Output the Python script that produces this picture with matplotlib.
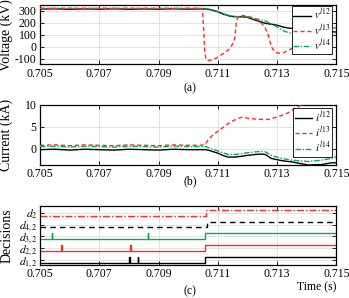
import matplotlib as mpl
mpl.use('Agg')
import matplotlib.pyplot as plt

plt.rcParams['font.family'] = ['Liberation Serif', 'DejaVu Serif']
plt.rcParams['mathtext.fontset'] = 'stix'
plt.rcParams['axes.unicode_minus'] = False
plt.rcParams['font.size'] = 8.5

RED = '#ff2a2a'
GREEN = '#00b050'

# --- panel (a): voltages (kV) ---
T_PRE = [0.7050, 0.7055, 0.7060, 0.7065, 0.7070, 0.7075, 0.7080, 0.7085,
         0.7090, 0.7095, 0.7100, 0.7104]
v12_pre = [316, 318, 314, 317, 315, 318, 314, 317, 315, 318, 315, 317]
v13_pre = [322, 319, 323, 320, 322, 319, 323, 320, 322, 319, 322, 321]
v14_pre = [321, 323, 320, 322, 321, 323, 320, 322, 321, 323, 321, 322]

t_v12 = [0.7106, 0.7108, 0.7110, 0.7112, 0.7114, 0.7116, 0.7118, 0.7120,
         0.7122, 0.7124, 0.7126, 0.7128, 0.7130, 0.7132, 0.7134, 0.7136,
         0.7138, 0.7140, 0.7145, 0.7150]
v12_post = [316, 308, 292, 272, 257, 251, 251, 246, 228, 212, 196, 188,
            180, 165, 155, 153, 150, 145, 132, 122]
t_v14 = t_v12
v14_post = [320, 310, 295, 276, 260, 252, 252, 250, 236, 228, 216, 192,
            165, 135, 116, 108, 110, 118, 140, 160]

t_v13 = [0.71048, 0.71052, 0.71056, 0.71060, 0.71066, 0.71083, 0.71100,
         0.71117, 0.71134, 0.71147, 0.71157, 0.71163, 0.71170, 0.71178,
         0.71197, 0.71225, 0.71242, 0.71258, 0.71270, 0.71281, 0.71292,
         0.71305, 0.71320, 0.71335, 0.71348, 0.71380, 0.71420, 0.71460,
         0.71500]
v13_post = [318, 150, -60, -105, -118, -110, -88, -60, -31, 10, 68, 223,
            255, 262, 257, 237, 209, 166, 96, -3, -45, -55, -52, -35, -17,
            20, 60, 95, 120]

# --- panel (b): currents (kA) ---
i12_pre = [-0.2, -0.1, -0.3, -0.1, -0.2, -0.3, -0.1, -0.2, -0.3, -0.1, -0.2, -0.2]
i13_pre = [0.8, 0.9, 0.7, 0.9, 0.8, 0.7, 0.9, 0.8, 0.7, 0.9, 0.8, 0.8]
i14_pre = [0.5, 0.6, 0.4, 0.6, 0.5, 0.4, 0.6, 0.5, 0.4, 0.6, 0.5, 0.5]

t_i = [0.7106, 0.71067, 0.7110, 0.71120, 0.71135, 0.71157, 0.7118, 0.7120,
       0.71225, 0.71247, 0.7126, 0.7128, 0.71315, 0.7135, 0.71405, 0.7145,
       0.71483, 0.7150]
i12_post = [-0.2, -0.3, -1.0, -1.6, -1.9, -1.9, -1.7, -1.5, -1.3, -1.2,
            -1.3, -2.2, -2.7, -3.0, -3.7, -3.6, -3.2, -3.2]
i14_post = [0.5, 0.3, -0.5, -1.0, -1.3, -1.3, -1.1, -0.9, -0.7, -0.6,
            -0.7, -1.5, -2.2, -2.6, -2.9, -2.6, -2.2, -1.8]

t_i13 = [0.71056, 0.71067, 0.71079, 0.7109, 0.7110, 0.71124, 0.7114,
         0.71163, 0.7118, 0.7120, 0.71225, 0.7125, 0.7127, 0.71303,
         0.71337, 0.7136, 0.7140, 0.7150]
i13_post = [0.9, 2.0, 2.9, 3.5, 4.0, 5.2, 6.0, 6.8, 7.2, 7.0, 6.8, 6.7,
            6.7, 7.3, 8.2, 9.3, 10.5, 12.0]

# --- panel (c): decisions ---
decision_labels = ['$d_{1,2}$', '$d_{2,2}$', '$d_{3,2}$', '$d_{4,2}$', '$d_2$']
decision_levels = [0, 1, 2, 3, 4]
decision_steps = [0.71056, 0.71056, 0.71056, 0.71062, 0.71060]
decision_spikes = [[0.70801, 0.70829], [0.70571, 0.70803],
                   [0.70539, 0.70863], [], []]
decision_styles = [dict(color='k', ls='-'), dict(color=RED, ls='-'),
                   dict(color=GREEN, ls='-'), dict(color='k', ls=(0, (4, 3))),
                   dict(color=RED, ls=(0, (5, 1.5, 1, 1.5)))]

STEP_HEIGHT = 0.5
SPIKE_WIDTH = 0.00003


def decision_trace(level, spikes, t_step):
    t = [0.705]
    y = [level]
    for s in spikes:
        t += [s, s + SPIKE_WIDTH]
        y += [level + STEP_HEIGHT, level]
    t += [t_step, 0.715]
    y += [level + STEP_HEIGHT, level + STEP_HEIGHT]
    return t, y


def style_axis(ax):
    ax.set_xlim(0.705, 0.715)
    ax.set_xticks([0.705, 0.707, 0.709, 0.711, 0.713, 0.715])
    ax.xaxis.set_major_formatter(mpl.ticker.FormatStrFormatter('%.3f'))
    ax.grid(True, color='#e3e3e3', lw=0.7)
    ax.set_axisbelow(True)
    ax.tick_params(direction='in', top=True, right=True, length=3,
                   width=0.6, pad=2.5)
    for sp in ax.spines.values():
        sp.set_linewidth(0.9)


def add_legend(ax, anchor_y):
    leg = ax.legend(loc='upper right', bbox_to_anchor=(0.986, anchor_y),
                    borderaxespad=0, fontsize=7.8, handlelength=1.6,
                    labelspacing=0.0, handletextpad=0.25, borderpad=0.15,
                    fancybox=False, framealpha=1, edgecolor='k')
    leg.get_frame().set_linewidth(0.6)


fig = plt.figure(figsize=(3.49, 2.98), dpi=100)
ax_a = fig.add_axes([0.1146, 0.7836, 0.8494, 0.1997])
ax_b = fig.add_axes([0.1146, 0.4463, 0.8494, 0.2014])
ax_c = fig.add_axes([0.1146, 0.1124, 0.8494, 0.1963])

# (a)
ax_a.plot(T_PRE + t_v12, v12_pre + v12_post, color='k', lw=1.0,
          label='$v^{l12}$', zorder=3)
ax_a.plot(T_PRE + t_v13, v13_pre + v13_post, color=RED, lw=1.0,
          ls=(0, (3, 2)), label='$v^{l13}$', zorder=4)
ax_a.plot(T_PRE + t_v14, v14_pre + v14_post, color=GREEN, lw=1.0,
          ls=(0, (4, 1.2, 1, 1.2)), label='$v^{l14}$', zorder=3)
style_axis(ax_a)
ax_a.set_ylim(-150, 350)
ax_a.set_yticks([-100, 0, 100, 200, 300])
ax_a.set_ylabel('Voltage (kV)', fontsize=10)
add_legend(ax_a, 0.99)

# (b)
ax_b.plot(T_PRE + t_i, i12_pre + i12_post, color='k', lw=1.0,
          label='$i^{l12}$', zorder=3)
ax_b.plot(T_PRE + t_i13, i13_pre + i13_post, color=RED, lw=1.0,
          ls=(0, (3, 2)), label='$i^{l13}$', zorder=4)
ax_b.plot(T_PRE + t_i, i14_pre + i14_post, color=GREEN, lw=1.0,
          ls=(0, (4, 1.2, 1, 1.2)), label='$i^{l14}$', zorder=3)
style_axis(ax_b)
ax_b.set_ylim(-3.7, 10)
ax_b.set_yticks([0, 5, 10])
ax_b.set_ylabel('Current (kA)', fontsize=10)
add_legend(ax_b, 0.95)

# (c)
for lvl, spikes, t_step, st in zip(decision_levels, decision_spikes,
                                   decision_steps, decision_styles):
    t, y = decision_trace(lvl, spikes, t_step)
    ax_c.plot(t, y, drawstyle='steps-post', lw=1.0, **st)
style_axis(ax_c)
ax_c.set_ylim(-0.1, 4.8)
ax_c.set_yticks([lvl + 0.25 for lvl in decision_levels])
ax_c.set_yticklabels(decision_labels, fontsize=8.3)
ax_c.tick_params(axis='y', pad=1.5)
ax_c.set_ylabel('Decisions', fontsize=10)

fig.text(0.545, 0.705, '(a)', ha='center', va='center', fontsize=8.5)
fig.text(0.545, 0.393, '(b)', ha='center', va='center', fontsize=8.5)
fig.text(0.545, 0.022, '(c)', ha='center', va='center', fontsize=8.5)
fig.text(0.965, 0.036, 'Time (s)', ha='right', va='center', fontsize=8.5)

for ax in (ax_a, ax_b, ax_c):
    ax.yaxis.set_label_coords(-0.09, 0.5)

fig.savefig('out.png', dpi=100)
